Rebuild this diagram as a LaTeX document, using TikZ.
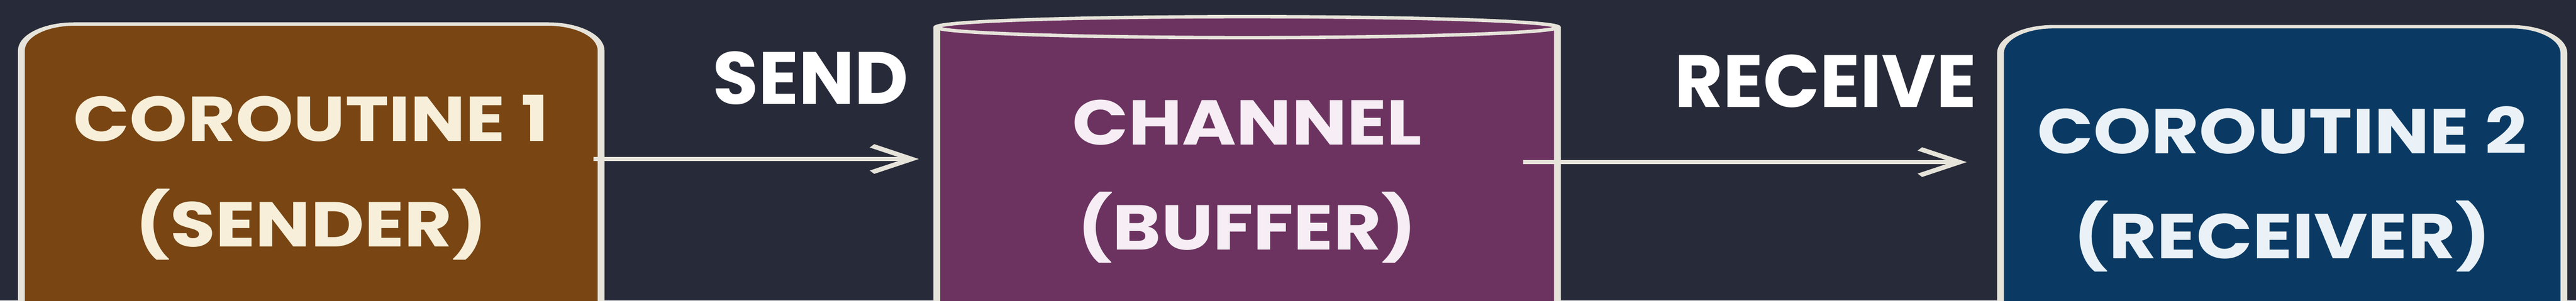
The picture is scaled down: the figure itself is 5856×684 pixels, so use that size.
\documentclass[tikz,border=0pt]{standalone}
\usepackage{fontspec}
\setmainfont{Poppins}[FakeStretch=0.58]
\newfontfamily\lblfamily{Poppins}[FakeStretch=0.5]
\usetikzlibrary{shapes.geometric,arrows.meta}
\definecolor{bgc}{HTML}{272A38}
\definecolor{brownf}{HTML}{784513}
\definecolor{purplef}{HTML}{6C3360}
\definecolor{bluef}{HTML}{0A3A63}
\definecolor{linec}{HTML}{E6E3DA}
\definecolor{creamt}{HTML}{F7EFD9}
\definecolor{pinkt}{HTML}{F6EEF4}
\definecolor{bluet}{HTML}{EAF2F8}
\newcommand\bxfont{\fontsize{41}{68}\selectfont\bfseries}
\begin{document}
\begin{tikzpicture}[x=0.01cm,y=0.01cm,
  outline/.style={draw=linec, line width=2.2pt},
  box/.style={outline, rounded corners=0.6cm, align=center, font=\bxfont, inner sep=0pt},
  barrel/.style={outline, cylinder, shape border rotate=90, aspect=0.12, align=center, font=\bxfont, inner sep=0pt},
  link/.style={draw=linec, line width=2.6pt, -{Straight Barb[length=0.45cm,width=0.6cm]}},
  lbl/.style={font=\lblfamily\fontsize{48}{48}\selectfont\bfseries, text=white}]
\fill[bgc] (0,0) rectangle (5856,684);
\useasboundingbox (0,0) rectangle (5856,684);
\begin{scope}[transform canvas={xscale=2}]
\node[box, fill=brownf, text=creamt, minimum width=6.585cm, minimum height=6.98cm] (b1) at (353.75,280) {COROUTINE 1\\(SENDER)};
\node[barrel, fill=purplef, text=pinkt, minimum width=7.05cm, minimum height=7.22cm] (chan) at (1417.5,271) {CHANNEL\\(BUFFER)};
\node[box, fill=bluef, text=bluet, minimum width=6.4cm, minimum height=7.38cm] (b3) at (2594,254) {COROUTINE 2\\(RECEIVER)};
\node[lbl] (send) at (921.5,506) {SEND};
\node[lbl] (recv) at (2075,499) {RECEIVE};
\draw[link] ([shift={(-12.5,42)}]b1.east) -- ([shift={(-16.5,51)}]chan.west);
\draw[link] ([shift={(-43,44)}]chan.east) -- ([shift={(-34.5,61)}]b3.west);
\end{scope}
\end{tikzpicture}
\end{document}
